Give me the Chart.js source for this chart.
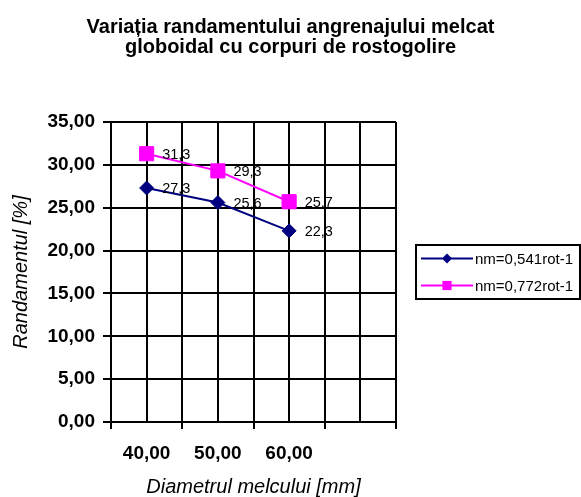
<!DOCTYPE html>
<html>
<head>
<meta charset="utf-8">
<script src="https://cdn.jsdelivr.net/npm/chart.js@4/dist/chart.umd.min.js"></script>
<style>
  html, body { margin: 0; padding: 0; background: #ffffff; }
  #wrap { width: 581px; height: 497px; }
</style>
</head>
<body>
<div id="wrap"><canvas id="chart" width="581" height="497"></canvas></div>
<script>
// Worm diameter categories (the last slot is left empty on purpose)
const diameters = ['40,00', '50,00', '60,00', ''];
// Efficiency values [%] for the two worm speeds
const seriesNames = ['nm=0,541rot-1', 'nm=0,772rot-1'];
const randament541 = [27.3, 25.6, 22.3];
const randament772 = [31.3, 29.3, 25.7];
// Value axis range and step
const yMin = 0, yMax = 35, yStep = 5;

const FONT = '"Liberation Sans", Arial, Helvetica, sans-serif';
const NAVY = '#000080';
const MAGENTA = '#FF00FF';

const decimalComma = (v, d) => Number(v).toFixed(d).replace('.', ',');

// Value labels written to the right of every point
const valueLabels = {
  id: 'valueLabels',
  afterDatasetsDraw(chart) {
    const ctx = chart.ctx;
    ctx.save();
    ctx.font = '14.5px ' + FONT;
    ctx.fillStyle = '#000';
    ctx.textAlign = 'left';
    ctx.textBaseline = 'middle';
    chart.data.datasets.forEach((ds, i) => {
      chart.getDatasetMeta(i).data.forEach((pt, j) => {
        ctx.fillText(decimalComma(ds.data[j], 1), pt.x + 15.5, pt.y + 1);
      });
    });
    ctx.restore();
  }
};

// Framed legend with a line-and-marker sample for each series
function drawMarker(ctx, style, x, y, r) {
  ctx.beginPath();
  if (style === 'rectRot') {
    ctx.moveTo(x, y - r); ctx.lineTo(x + r, y); ctx.lineTo(x, y + r); ctx.lineTo(x - r, y);
  } else {
    const s = r * Math.SQRT1_2;
    ctx.rect(x - s, y - s, 2 * s, 2 * s);
  }
  ctx.closePath();
  ctx.fill();
}
const framedLegend = {
  id: 'framedLegend',
  afterDraw(chart) {
    const ctx = chart.ctx;
    const area = chart.chartArea;
    const w = 164, h = 54;
    const left = area.right + 20;
    const top = (area.top + area.bottom) / 2 - h / 2;
    ctx.save();
    ctx.lineWidth = 2;
    ctx.strokeStyle = '#000';
    ctx.strokeRect(left, top, w, h);
    ctx.font = '15px ' + FONT;
    ctx.textAlign = 'left';
    ctx.textBaseline = 'middle';
    chart.data.datasets.forEach((ds, i) => {
      const y = top + 13.5 + i * 27;
      ctx.strokeStyle = ds.borderColor;
      ctx.fillStyle = ds.backgroundColor;
      ctx.lineWidth = 2;
      ctx.beginPath();
      ctx.moveTo(left + 5, y);
      ctx.lineTo(left + 57, y);
      ctx.stroke();
      drawMarker(ctx, ds.pointStyle, left + 31, y, ds.pointStyle === 'rect' ? 6.5 : 5);
      ctx.fillStyle = '#000';
      ctx.fillText(ds.label, left + 59, y + 1);
    });
    ctx.restore();
  }
};

new Chart(document.getElementById('chart'), {
  type: 'line',
  data: {
    labels: diameters,
    datasets: [
      {
        label: seriesNames[0],
        data: randament541,
        borderColor: NAVY,
        backgroundColor: NAVY,
        borderWidth: 2,
        pointStyle: 'rectRot',
        pointRadius: 7,
        pointBorderWidth: 1,
        tension: 0,
        xAxisID: 'x',
        yAxisID: 'y'
      },
      {
        label: seriesNames[1],
        data: randament772,
        borderColor: MAGENTA,
        backgroundColor: MAGENTA,
        borderWidth: 2,
        pointStyle: 'rect',
        pointRadius: 10,
        pointBorderWidth: 1,
        tension: 0,
        xAxisID: 'x',
        yAxisID: 'y'
      }
    ]
  },
  options: {
    responsive: false,
    animation: false,
    devicePixelRatio: 1,
    layout: { padding: 0 },
    plugins: {
      legend: { display: false },
      tooltip: { enabled: false },
      title: {
        display: true,
        text: ['Variația randamentului angrenajului melcat', 'globoidal cu corpuri de rostogolire'],
        color: '#000',
        font: { family: FONT, size: 20, weight: 'bold', lineHeight: '20px' },
        padding: { top: 17, bottom: 65 }
      }
    },
    scales: {
      x: {
        type: 'category',
        position: 'bottom',
        offset: true,
        grid: { offset: true, color: '#000', lineWidth: 2, tickLength: 7, tickColor: '#000', drawTicks: true },
        border: { color: '#000', width: 2 },
        ticks: {
          color: '#000',
          font: { family: FONT, size: 19, weight: 'bold' },
          padding: 13,
          maxRotation: 0,
          autoSkip: false
        },
        title: {
          display: true,
          text: 'Diametrul melcului [mm]',
          color: '#000',
          font: { family: FONT, size: 20, style: 'italic', lineHeight: 1 },
          padding: { top: 0, bottom: 0 }
        },
        afterFit(scale) { scale.height = 75; }
      },
      xMid: {
        type: 'category',
        position: 'top',
        offset: true,
        grid: { offset: false, color: '#000', lineWidth: 2, drawTicks: false },
        border: { display: false },
        ticks: { display: false }
      },
      y: {
        min: yMin,
        max: yMax,
        grid: { color: '#000', lineWidth: 2, tickLength: 8, tickColor: '#000' },
        border: { color: '#000', width: 2 },
        ticks: {
          stepSize: yStep,
          color: '#000',
          font: { family: FONT, size: 19, weight: 'bold' },
          padding: 8,
          callback: (v) => decimalComma(v, 2)
        },
        title: {
          display: true,
          text: 'Randamentul [%]',
          color: '#000',
          font: { family: FONT, size: 20, style: 'italic', lineHeight: 1 },
          padding: { top: 11, bottom: 0 }
        },
        afterFit(scale) { scale.width = 111; }
      },
      // Empty right-hand band that keeps room for the framed legend
      legendSpace: {
        type: 'linear',
        position: 'right',
        display: true,
        grid: { display: false, drawTicks: false },
        border: { display: false },
        ticks: { display: false },
        afterFit(scale) { scale.width = 185; }
      }
    }
  },
  plugins: [valueLabels, framedLegend]
});
</script>
</body>
</html>
